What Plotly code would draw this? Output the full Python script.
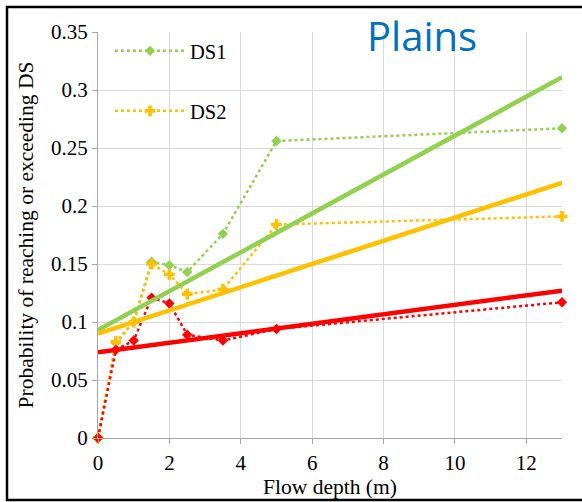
import plotly.graph_objects as go

# ---- data ----
depth = [0, 0.5, 1, 1.5, 2, 2.5, 3.5, 5, 13]
ds1 = [0, 0.082, 0.100, 0.152, 0.149, 0.143, 0.176, 0.256, 0.267]
ds2 = [0, 0.083, 0.100, 0.150, 0.141, 0.124, 0.128, 0.184, 0.191]
ds3 = [0, 0.076, 0.084, 0.121, 0.116, 0.089, 0.084, 0.094, 0.117]

trend_x = [0, 13]
trend_ds1 = [0.093, 0.311]
trend_ds2 = [0.090, 0.220]
trend_ds3 = [0.074, 0.127]

x_ticks = [0, 2, 4, 6, 8, 10, 12]
y_ticks = [0, 0.05, 0.1, 0.15, 0.2, 0.25, 0.3, 0.35]

GREEN = "#92D050"
ORANGE = "#FFC000"
RED = "#FF0000"
SERIF = "Liberation Serif, Times New Roman, serif"

fig = go.Figure()

fig.add_trace(go.Scatter(x=depth, y=ds1, name="DS1", mode="lines+markers",
                         line=dict(color=GREEN, width=2.5, dash="dot"),
                         marker=dict(symbol="diamond", size=8, color=GREEN),
                         cliponaxis=False, legend="legend"))
fig.add_trace(go.Scatter(x=depth, y=ds2, name="DS2", mode="lines+markers",
                         line=dict(color=ORANGE, width=2.5, dash="dot"),
                         marker=dict(symbol="cross", size=9, color=ORANGE),
                         cliponaxis=False, legend="legend2"))
fig.add_trace(go.Scatter(x=depth, y=ds3, name="DS3", mode="lines+markers",
                         line=dict(color=RED, width=2.5, dash="dot"),
                         marker=dict(symbol="diamond", size=8, color=RED),
                         cliponaxis=False, showlegend=False))

fig.add_trace(go.Scatter(x=trend_x, y=trend_ds1, mode="lines",
                         line=dict(color=GREEN, width=4.5), showlegend=False))
fig.add_trace(go.Scatter(x=trend_x, y=trend_ds2, mode="lines",
                         line=dict(color=ORANGE, width=4.5), showlegend=False))
fig.add_trace(go.Scatter(x=trend_x, y=trend_ds3, mode="lines",
                         line=dict(color=RED, width=4.5), showlegend=False))

W, H = 582, 502
L, R, T, B = 98, 20, 32, 64
pw, ph = W - L - R, H - T - B


def px_x(p):
    return (p - L) / pw


def px_y(p):
    return (H - B - p) / ph


fig.update_layout(
    width=W, height=H,
    margin=dict(l=L, r=R, t=T, b=B, pad=0, autoexpand=False),
    paper_bgcolor="white", plot_bgcolor="white",
    font=dict(family=SERIF, size=21, color="black"),
    xaxis=dict(range=[0, 13], tickvals=x_ticks, showgrid=True, gridcolor="#D9D9D9",
               gridwidth=1.3, showline=True, linecolor="#A6A6A6", linewidth=1.3,
               ticks="outside", ticklen=5, tickcolor="#A6A6A6", zeroline=False,
               ticklabelstandoff=1, automargin=False,
               tickfont=dict(family=SERIF, size=21),
               title=dict(text="Flow depth (m)", font=dict(family=SERIF, size=21.5), standoff=2)),
    yaxis=dict(range=[0, 0.35], tickvals=y_ticks, showgrid=True, gridcolor="#D9D9D9",
               gridwidth=1.3, showline=True, linecolor="#A6A6A6", linewidth=1.3,
               ticks="outside", ticklen=5, tickcolor="#A6A6A6", zeroline=False,
               automargin=False,
               tickfont=dict(family=SERIF, size=21),
               title=dict(text="Probability of reaching or exceeding DS",
                          font=dict(family=SERIF, size=21.5), standoff=11)),
    legend=dict(x=px_x(110), y=px_y(31), xanchor="left", yanchor="top",
                bgcolor="rgba(0,0,0,0)", itemwidth=70,
                font=dict(family=SERIF, size=20.5)),
    legend2=dict(x=px_x(110), y=px_y(91), xanchor="left", yanchor="top",
                 bgcolor="rgba(0,0,0,0)", itemwidth=70,
                 font=dict(family=SERIF, size=20.5)),
    showlegend=True,
)

# legend background box (hides grid lines behind the legend, as in the reference)
fig.add_shape(type="rect", xref="paper", yref="paper",
              x0=px_x(102), x1=px_x(248), y0=px_y(165), y1=px_y(33.5),
              fillcolor="white", line=dict(width=0), layer="between")

# outer chart border
fig.add_shape(type="rect", xref="paper", yref="paper",
              x0=px_x(7), x1=px_x(600), y0=px_y(500), y1=px_y(7),
              line=dict(color="black", width=2.5), fillcolor="rgba(0,0,0,0)",
              layer="above")

fig.add_annotation(text="Plains", xref="paper", yref="paper",
                   x=px_x(422), y=px_y(36), xanchor="center", yanchor="middle",
                   showarrow=False,
                   font=dict(family="Open Sans, Lato, sans-serif", size=40, color="#0070C0"))

fig.write_html("out.html")
